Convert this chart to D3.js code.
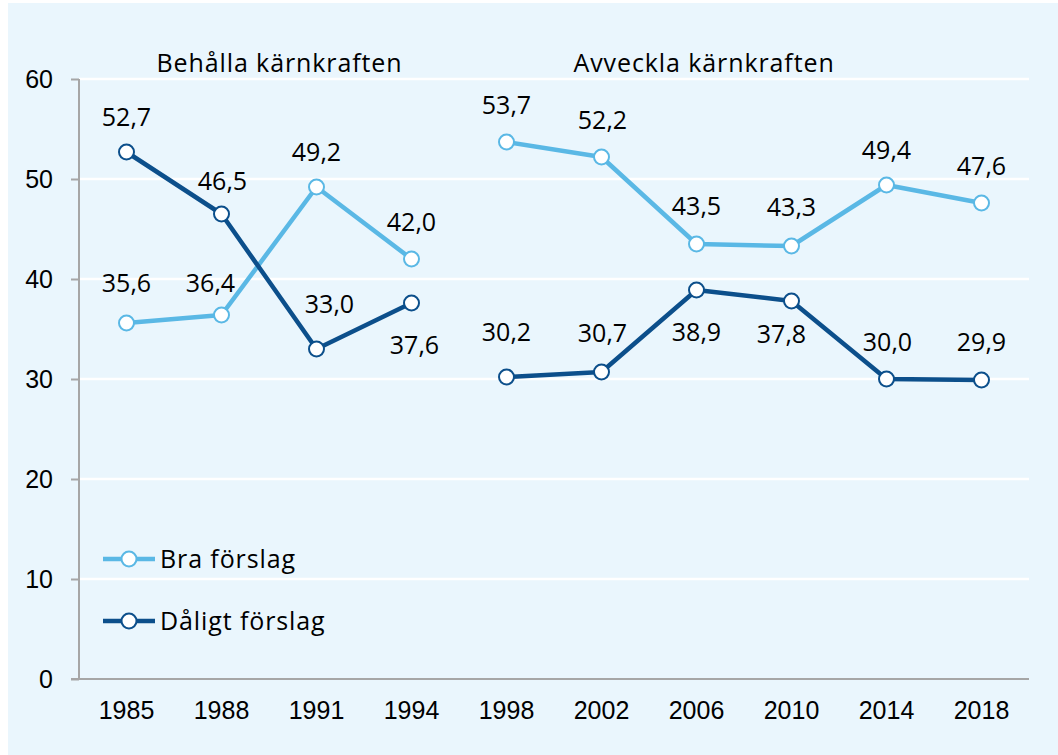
<!DOCTYPE html>
<html>
<head>
<meta charset="utf-8">
<script src="https://cdn.jsdelivr.net/npm/d3@7"></script>
<style>
  body { margin: 0; background: #fff; }
  svg { display: block; font-family: "Open Sans", "Noto Sans", sans-serif; }
</style>
</head>
<body>
<svg id="chart" width="1058" height="755"></svg>
<script>
// data
const years = ["1985", "1988", "1991", "1994", "1998", "2002", "2006", "2010", "2014", "2018"];
const period = [0, 0, 0, 0, 1, 1, 1, 1, 1, 1]; // 0 = behålla, 1 = avveckla
const periodNames = ["Behålla kärnkraften", "Avveckla kärnkraften"];
const bra = [35.6, 36.4, 49.2, 42.0, 53.7, 52.2, 43.5, 43.3, 49.4, 47.6];
const daligt = [52.7, 46.5, 33.0, 37.6, 30.2, 30.7, 38.9, 37.8, 30.0, 29.9];
const yTicks = [0, 10, 20, 30, 40, 50, 60];

// label offsets (dx, dy) from the point
const braLab = [[0, -40], [-11, -32], [0, -35], [0, -37], [0, -37], [1, -37], [0, -38], [0, -39], [0, -35], [0, -37]];
const dalLab = [[0, -35], [1, -33], [13, -45], [3, 42], [0, -45], [1, -39], [0, 42], [-10, 33], [1, -37], [0, -38]];

const colBra = "#5ab8e5",
    colDal = "#0c4f8b";

const svg = d3.select("#chart");
const margin = { top: 79, right: 29, bottom: 76, left: 79 };
const W = 1058, H = 755;
const w = W - margin.left - margin.right,
    h = H - margin.top - margin.bottom;
const fs = 25;

// background panel
svg.append("rect")
    .attr("x", 8).attr("y", 3)
    .attr("width", W - 8).attr("height", H - 3)
    .attr("fill", "#eaf6fd");

const g = svg.append("g").attr("transform", `translate(${margin.left},${margin.top})`);

const x = d3.scaleBand().domain(years).range([0, w]);
const y = d3.scaleLinear().domain([0, 60]).range([h, 0]);
const cx = (i) => x(years[i]) + x.bandwidth() / 2;

// grid
g.selectAll("line.grid")
    .data(yTicks.filter(d => d > 0))
    .enter().append("line")
    .attr("class", "grid")
    .attr("x1", 0).attr("x2", w)
    .attr("y1", d => y(d)).attr("y2", d => y(d))
    .attr("stroke", "#fff").attr("stroke-width", 2.5);

// y axis
const yAxis = g.append("g")
    .call(d3.axisLeft(y).tickValues(yTicks).tickSize(8).tickPadding(18).tickFormat(d3.format("d")));
yAxis.select(".domain").attr("stroke", "#a6a6a6").attr("stroke-width", 2).attr("d", `M0,${h}V0`);
yAxis.selectAll(".tick line").attr("stroke", "#a6a6a6").attr("stroke-width", 2);
yAxis.selectAll("text").attr("font-size", fs).attr("fill", "#000");

// x axis
const xAxis = g.append("g")
    .attr("transform", `translate(0,${h})`)
    .call(d3.axisBottom(x).tickSize(0).tickPadding(22));
xAxis.select(".domain").attr("stroke", "#a6a6a6").attr("stroke-width", 2).attr("d", `M-8,0H${w}`);
xAxis.selectAll("text").attr("font-size", fs).attr("fill", "#000");

// period headers
const headX = [cx(0) + 30, cx(4) + 67];
g.selectAll("text.head")
    .data(periodNames)
    .enter().append("text")
    .attr("class", "head")
    .attr("x", (d, i) => headX[i])
    .attr("y", -7)
    .attr("font-size", fs)
    .attr("letter-spacing", 0.9)
    .text(d => d);

const fmt = (v) => v.toFixed(1).replace(".", ",");

function drawSeries(vals, color, offs) {
    const line = d3.line().x(d => cx(d)).y(d => y(vals[d]));
    [0, 1].forEach(p => {
        const idx = d3.range(vals.length).filter(i => period[i] === p);
        g.append("path")
            .attr("d", line(idx))
            .attr("fill", "none")
            .attr("stroke", color)
            .attr("stroke-width", 4.5)
            .attr("stroke-linejoin", "round");
    });
    g.selectAll(null)
        .data(vals)
        .enter().append("circle")
        .attr("cx", (d, i) => cx(i))
        .attr("cy", d => y(d))
        .attr("r", 7.5)
        .attr("fill", "#fff")
        .attr("stroke", color)
        .attr("stroke-width", 2);
    g.selectAll(null)
        .data(vals)
        .enter().append("text")
        .attr("x", (d, i) => cx(i) + offs[i][0])
        .attr("y", (d, i) => y(d) + offs[i][1])
        .attr("dy", "0.36em")
        .attr("text-anchor", "middle")
        .attr("font-size", fs)
        .text(d => fmt(d));
}

drawSeries(bra, colBra, braLab);
drawSeries(daligt, colDal, dalLab);

// legend
const legend = [["Bra förslag", colBra], ["Dåligt förslag", colDal]];
const lg = svg.selectAll("g.leg")
    .data(legend)
    .enter().append("g")
    .attr("class", "leg")
    .attr("transform", (d, i) => `translate(103,${559 + i * 62})`);
lg.append("line")
    .attr("x1", 0).attr("x2", 52)
    .attr("stroke", d => d[1]).attr("stroke-width", 4.5);
lg.append("circle")
    .attr("cx", 26).attr("r", 7.5)
    .attr("fill", "#fff")
    .attr("stroke", d => d[1]).attr("stroke-width", 2);
lg.append("text")
    .attr("x", 57).attr("dy", "0.36em")
    .attr("font-size", fs)
    .attr("letter-spacing", 0.9)
    .text(d => d[0]);
</script>
</body>
</html>
